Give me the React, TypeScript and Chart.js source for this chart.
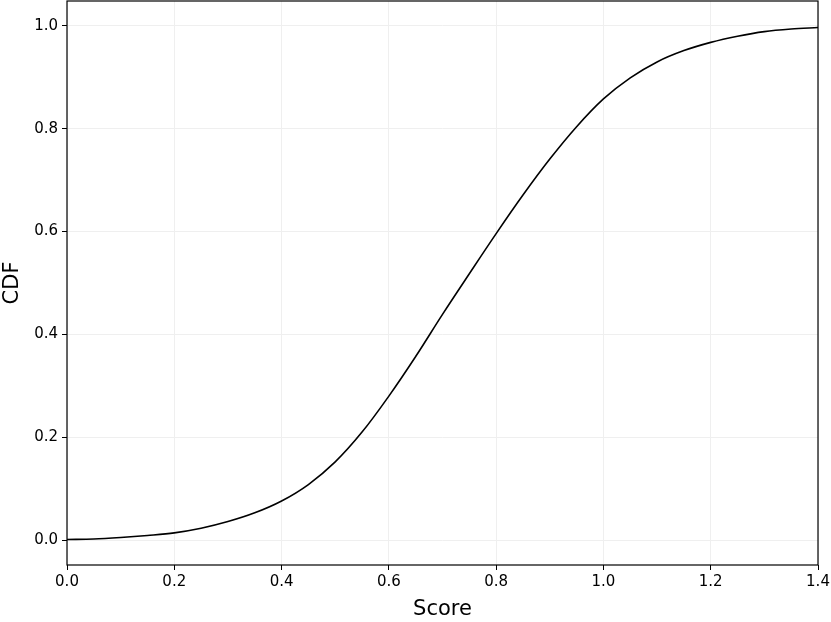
import React, { useEffect, useRef } from "react";
import { Chart, registerables } from "chart.js";

Chart.register(...registerables);

const scoreValues: number[] = [
  0, 0.05, 0.1, 0.15, 0.2, 0.25, 0.3, 0.35, 0.4, 0.45, 0.5, 0.55, 0.6, 0.65, 0.7,
  0.75, 0.8, 0.85, 0.9, 0.95, 1.0, 1.05, 1.1, 1.15, 1.2, 1.25, 1.3, 1.35, 1.4,
];
const cdfValues: number[] = [
  0.001, 0.002, 0.005, 0.009, 0.014, 0.023, 0.036, 0.053, 0.076, 0.108, 0.152,
  0.21, 0.28, 0.357, 0.439, 0.518, 0.596, 0.671, 0.741, 0.804, 0.858, 0.899, 0.93,
  0.952, 0.968, 0.98, 0.989, 0.994, 0.997,
];
const xTicks: number[] = [0, 0.2, 0.4, 0.6, 0.8, 1.0, 1.2, 1.4];
const yTicks: number[] = [0, 0.2, 0.4, 0.6, 0.8, 1.0];

const frame = {
  id: "frame",
  afterDraw(chart: any) {
    const { ctx, chartArea } = chart;
    ctx.save();
    ctx.strokeStyle = "#000";
    ctx.lineWidth = 1.2;
    ctx.strokeRect(chartArea.left, chartArea.top, chartArea.right - chartArea.left, chartArea.bottom - chartArea.top);
    ctx.restore();
  },
};

export default function App() {
  const ref = useRef<HTMLCanvasElement | null>(null);
  useEffect(() => {
    document.body.style.margin = "0";
    const font = "'DejaVu Sans', sans-serif";
    const chart = new Chart(ref.current!, {
      type: "line",
      data: {
        datasets: [
          {
            data: scoreValues.map((x, i) => ({ x, y: cdfValues[i] })),
            borderColor: "#000",
            borderWidth: 1.6,
            pointRadius: 0,
            cubicInterpolationMode: "monotone",
            fill: false,
          },
        ],
      },
      options: {
        animation: false,
        responsive: false,
        layout: { padding: { top: 1, right: 13, left: 0, bottom: 0 } },
        plugins: { legend: { display: false }, tooltip: { enabled: false } },
        scales: {
          x: {
            type: "linear",
            min: 0,
            max: 1.4,
            afterBuildTicks: (s: any) => {
              s.ticks = xTicks.map((v) => ({ value: v }));
            },
            afterFit: (s: any) => {
              s.height = 57;
              s.paddingLeft = 0;
              s.paddingRight = 0;
            },
            grid: { color: "#efefef", tickColor: "#000", tickLength: 5, lineWidth: 1 },
            border: { display: false },
            ticks: {
              color: "#000",
              font: { family: font, size: 15 },
              padding: 3,
              maxRotation: 0,
              callback: (v: any) => Number(v).toFixed(1),
            },
            title: {
              display: true,
              text: "Score",
              color: "#000",
              font: { family: font, size: 21 },
              padding: { top: 1, bottom: 0 },
            },
          },
          y: {
            type: "linear",
            min: -0.0485,
            max: 1.0485,
            afterBuildTicks: (s: any) => {
              s.ticks = yTicks.map((v) => ({ value: v }));
            },
            afterFit: (s: any) => {
              s.width = 67;
              s.paddingTop = 0;
              s.paddingBottom = 0;
            },
            grid: { color: "#efefef", tickColor: "#000", tickLength: 5, lineWidth: 1 },
            border: { display: false },
            ticks: {
              color: "#000",
              font: { family: font, size: 15 },
              padding: 4,
              callback: (v: any) => Number(v).toFixed(1),
            },
            title: {
              display: true,
              text: "CDF",
              color: "#000",
              font: { family: font, size: 21 },
              padding: { top: 0, bottom: 0 },
            },
          },
        },
      },
      plugins: [frame],
    } as any);
    return () => chart.destroy();
  }, []);
  return (
    <div style={{ position: "absolute", left: 0, top: 0, width: 831, height: 622 }}>
      <canvas ref={ref} width={831} height={622} style={{ width: 831, height: 622 }} />
    </div>
  );
}
